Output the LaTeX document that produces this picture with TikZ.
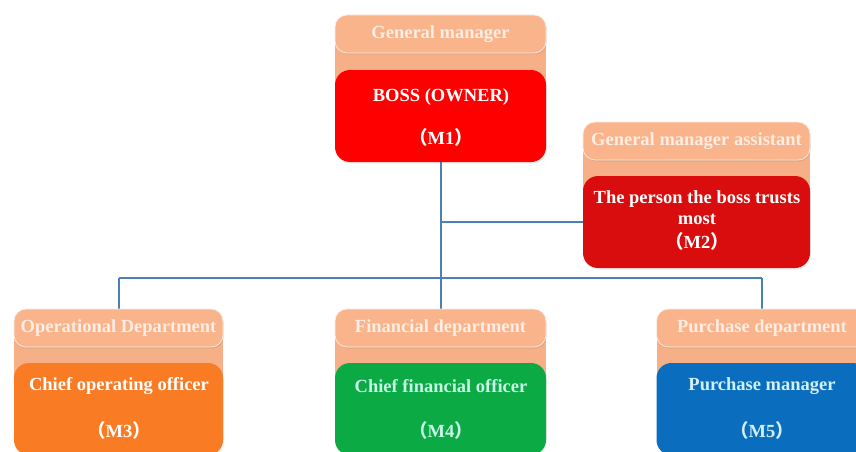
\documentclass[tikz,border=0pt]{standalone}
\usepackage{fontspec}
\setmainfont{Liberation Serif}
\newfontfamily\cjk{Noto Sans CJK SC}
\usetikzlibrary{shadows}
\definecolor{peach}{HTML}{F9B48C}
\definecolor{peachback}{HTML}{F7AF87}
\definecolor{peachtext}{HTML}{FDEDE2}
\definecolor{bossred}{HTML}{FF0000}
\definecolor{asstred}{HTML}{D90D0D}
\definecolor{coorange}{HTML}{F97B24}
\definecolor{cfogreen}{HTML}{0CAA45}
\definecolor{pmblue}{HTML}{0B6DBE}
\definecolor{linkblue}{HTML}{4A80B5}
\definecolor{greentext}{HTML}{C8F5E6}
\definecolor{bluetext}{HTML}{D2F0F7}
\tikzset{
  headbox/.style={rectangle, rounded corners=12pt, fill=peach, draw=peachtext, line width=0.7pt,
    minimum height=38pt, inner sep=0pt, text=peachtext,
    font=\fontsize{18.5}{21}\selectfont\bfseries,
    drop shadow={opacity=0.2, shadow xshift=0.8pt, shadow yshift=-1.5pt}},
  backbox/.style={rectangle, fill=peachback, inner sep=0pt},
  bodybox/.style={rectangle, rounded corners=15pt, minimum height=92pt, inner sep=0pt,
    drop shadow={opacity=0.15, shadow xshift=0.8pt, shadow yshift=-1.5pt}},
  bodytext/.style={inner sep=0pt, font=\fontsize{18.5}{21}\selectfont\bfseries, align=center},
  link/.style={draw=linkblue, line width=2pt}
}
\begin{document}
\begin{tikzpicture}[x=1pt,y=-1pt]
\useasboundingbox (0,0) rectangle (856,452);
\fill[white] (0,0) rectangle (856,452);
\clip (0,0) rectangle (856,452);

% connectors
\coordinate (busL) at (119,278);
\coordinate (busR) at (762,278);
\coordinate (bossbottom) at (441,162);
\coordinate (asstj) at (441,222);
\draw[link] (busL) -- (busR);
\draw[link] (bossbottom) -- (bossbottom |- busL);
\draw[link] (asstj) -- (583,222);
\draw[link] (busL) -- (119,309);
\draw[link] (441,278) -- (441,309);
\draw[link] (busR) -- (762,309);

% M1
\node[backbox, minimum width=211pt, minimum height=82pt] (m1back) at (440.5,75) {};
\node[headbox, minimum width=211pt] (m1h) at (440.5,34) {General manager};
\node[bodybox, fill=bossred, minimum width=211pt] (m1b) at (440.5,116) {};
\node[bodytext, text=white] (m1t1) at (441,97) {BOSS (OWNER)};
\node[bodytext, text=white] (m1t2) at (441,137) {{\cjk （}M1{\cjk ）}};

% M2
\node[backbox, minimum width=227pt, minimum height=81pt] (m2back) at (696.5,181.5) {};
\node[headbox, minimum width=227pt] (m2h) at (696.5,141) {General manager assistant};
\node[bodybox, fill=asstred, minimum width=227pt] (m2b) at (696.5,222) {};
\node[bodytext, text=white] (m2t1) at (697,199) {The person the boss trusts};
\node[bodytext, text=white] (m2t2) at (697,219) {most};
\node[bodytext, text=white] (m2t3) at (697,241) {{\cjk （}M2{\cjk ）}};

% M3
\node[backbox, minimum width=209pt, minimum height=81pt] (m3back) at (118.5,368.5) {};
\node[headbox, minimum width=209pt] (m3h) at (118.5,328) {Operational Department};
\node[bodybox, fill=coorange, minimum width=209pt] (m3b) at (118.5,409) {};
\node[bodytext, text=white] (m3t1) at (119,386) {Chief operating officer};
\node[bodytext, text=white] (m3t2) at (119,430) {{\cjk （}M3{\cjk ）}};

% M4
\node[backbox, minimum width=211pt, minimum height=81pt] (m4back) at (440.5,368.5) {};
\node[headbox, minimum width=211pt] (m4h) at (440.5,328) {Financial department};
\node[bodybox, fill=cfogreen, minimum width=211pt] (m4b) at (440.5,409) {};
\node[bodytext, text=greentext] (m4t1) at (441,386) {Chief financial officer};
\node[bodytext, text=greentext] (m4t2) at (441,430) {{\cjk （}M4{\cjk ）}};

% M5
\node[backbox, minimum width=211pt, minimum height=81pt] (m5back) at (762,368.5) {};
\node[headbox, minimum width=211pt] (m5h) at (762,328) {Purchase department};
\node[bodybox, fill=pmblue, minimum width=211pt] (m5b) at (762,409) {};
\node[bodytext, text=bluetext] (m5t1) at (762,386) {Purchase manager};
\node[bodytext, text=bluetext] (m5t2) at (762,430) {{\cjk （}M5{\cjk ）}};
\end{tikzpicture}
\end{document}
